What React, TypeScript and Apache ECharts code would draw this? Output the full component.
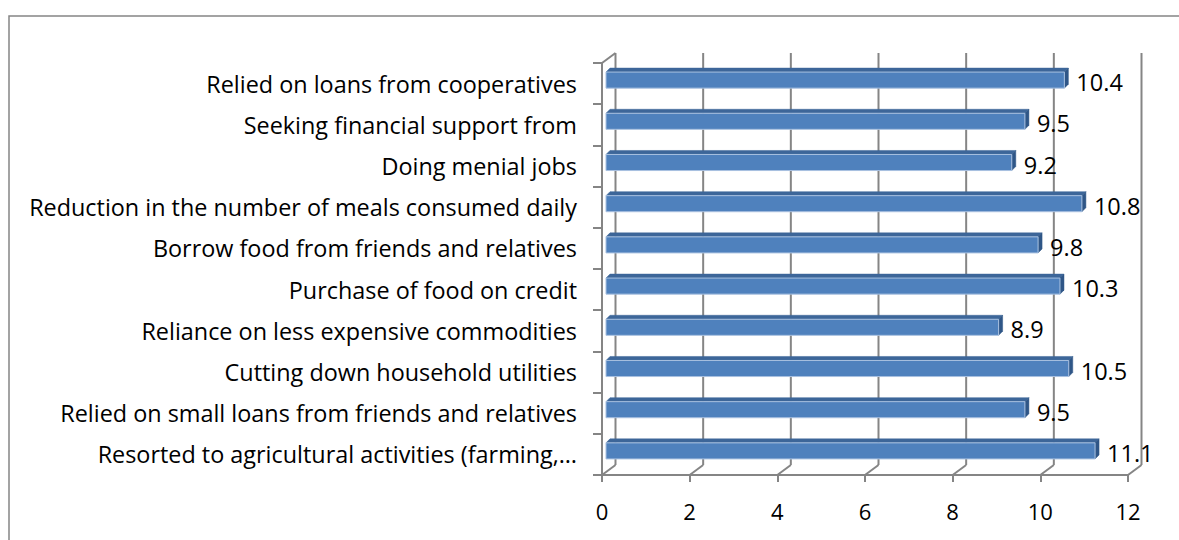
import React, { useEffect, useRef } from "react";
import * as echarts from "echarts";

// Categories listed bottom -> top (ECharts category axis order for horizontal bars)
const categories = [
  "Resorted to agricultural activities (farming,…",
  "Relied on small loans from friends and relatives",
  "Cutting down household utilities",
  "Reliance on less expensive commodities",
  "Purchase of food on credit",
  "Borrow food from friends and relatives",
  "Reduction in the number of meals consumed daily",
  "Doing menial jobs",
  "Seeking financial support from",
  "Relied on loans from cooperatives",
];
const values = [11.1, 9.5, 10.5, 8.9, 10.3, 9.8, 10.8, 9.2, 9.5, 10.4];
const xTicks = [0, 2, 4, 6, 8, 10, 12];

const FONT = "'Open Sans', 'Noto Sans', sans-serif";
const LINE = "#858585";
const DX = 13.5; // depth offset of back wall
const DY = -10;

export default function App() {
  const ref = useRef<HTMLDivElement>(null);
  useEffect(() => {
    if (!ref.current) return;
    const chart = echarts.init(ref.current, null, { renderer: "svg" });
    chart.setOption({
      animation: false,
      backgroundColor: "#ffffff",
      graphic: [
        {
          type: "rect",
          shape: { x: 9, y: 16, width: 1200, height: 600 },
          style: { fill: "none", stroke: LINE, lineWidth: 1.5 },
          silent: true,
        },
      ],
      grid: { left: 602, right: 51, top: 63, bottom: 65 },
      xAxis: {
        type: "value",
        min: 0,
        max: 12,
        interval: 2,
        axisLine: { show: true, lineStyle: { color: LINE, width: 2 } },
        axisTick: { show: true, length: 7, lineStyle: { color: LINE, width: 2 } },
        splitLine: { show: false },
        axisLabel: { color: "#000", fontSize: 22, fontFamily: FONT, margin: 24, lineHeight: 24 },
      },
      yAxis: {
        type: "category",
        data: categories,
        axisLine: { show: true, lineStyle: { color: LINE, width: 2 } },
        axisTick: { show: true, length: 9, lineStyle: { color: LINE, width: 2 } },
        splitLine: { show: false },
        axisLabel: { color: "#000", fontSize: 23.4, fontFamily: FONT, margin: 25 },
      },
      series: [
        {
          type: "custom",
          z: 1,
          clip: false,
          silent: true,
          data: xTicks.map((t) => [t]),
          encode: { x: 0 },
          renderItem: (params: any, api: any) => {
            const cs = params.coordSys;
            const t = api.value(0);
            const x = api.coord([t, 0])[0];
            const top = cs.y;
            const bottom = cs.y + cs.height;
            const children: any[] = [
              {
                type: "line",
                shape: { x1: x + DX, y1: top + DY, x2: x + DX, y2: bottom + DY },
                style: { stroke: LINE, lineWidth: 2 },
              },
              {
                type: "line",
                shape: { x1: x, y1: bottom, x2: x + DX, y2: bottom + DY },
                style: { stroke: LINE, lineWidth: 2 },
              },
            ];
            if (t === 0) {
              children.push({
                type: "line",
                shape: { x1: x, y1: top, x2: x + DX, y2: top + DY },
                style: { stroke: LINE, lineWidth: 2 },
              });
            }
            return { type: "group", children };
          },
        },
        {
          type: "custom",
          z: 3,
          clip: false,
          silent: true,
          data: values.map((v, i) => [v, i]),
          encode: { x: 0, y: 1 },
          renderItem: (params: any, api: any) => {
            const v = api.value(0);
            const i = api.value(1);
            const p0 = api.coord([0, i]);
            const p1 = api.coord([v, i]);
            const band = api.size([0, 1])[1];
            const fh = band * 0.39;
            const cy = p0[1] - 3.5;
            const xl = p0[0] + 4;
            const xr = p1[0] + 6.5;
            const yt = cy - fh / 2;
            const yb = cy + fh / 2;
            const d = 4;
            return {
              type: "group",
              children: [
                {
                  type: "polygon",
                  shape: { points: [[xl, yt], [xr, yt], [xr + d, yt - d], [xl + d, yt - d]] },
                  style: { fill: "#3d6699", stroke: "#3d6699", lineWidth: 0.5 },
                },
                {
                  type: "polygon",
                  shape: { points: [[xr, yt], [xr + d, yt - d], [xr + d, yb - d], [xr, yb]] },
                  style: { fill: "#2f5687", stroke: "#2f5687", lineWidth: 0.5 },
                },
                {
                  type: "rect",
                  shape: { x: xl, y: yt, width: xr - xl, height: fh },
                  style: { fill: "#4f81bd", stroke: "#a9c1e0", lineWidth: 1 },
                },
                {
                  type: "text",
                  style: {
                    text: String(v),
                    x: xr + d + 8,
                    y: cy + 2,
                    verticalAlign: "middle",
                    align: "left",
                    fontSize: 23.5,
                    fontFamily: FONT,
                    fill: "#000",
                  },
                },
              ],
            };
          },
        },
      ],
    });
    return () => chart.dispose();
  }, []);
  return (
    <div
      ref={ref}
      style={{ position: "absolute", left: 0, top: 0, width: 1179, height: 540 }}
    />
  );
}
